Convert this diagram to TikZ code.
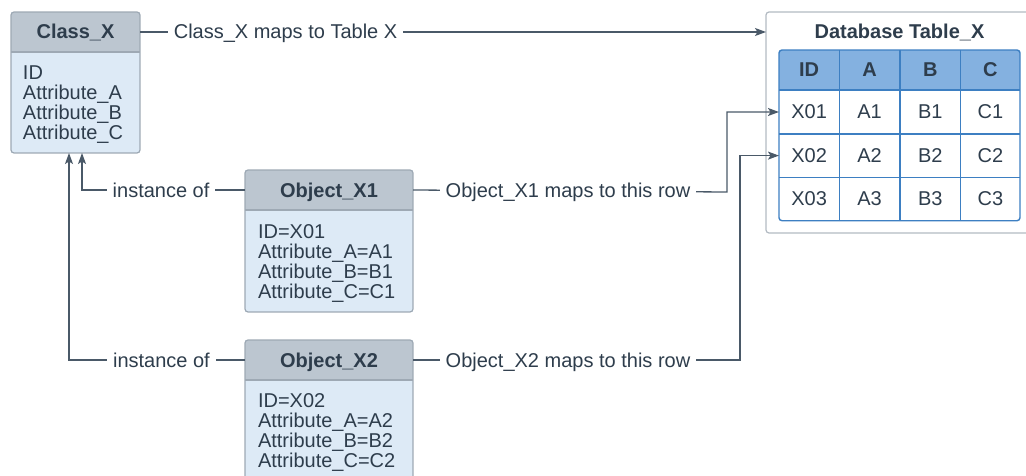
\documentclass[tikz,border=0pt]{standalone}
\usepackage{fontspec}
\setmainfont{Liberation Sans}
\usetikzlibrary{arrows.meta,calc}
\definecolor{hdr}{HTML}{BCC6D0}
\definecolor{bdy}{HTML}{DDEAF6}
\definecolor{brd}{HTML}{9EA9B4}
\definecolor{txt}{HTML}{2E3D4C}
\definecolor{ln}{HTML}{4A5968}
\definecolor{thdr}{HTML}{84B1E0}
\definecolor{tbrd}{HTML}{3D7FC2}
\definecolor{dbbrd}{HTML}{B3BBC3}
\begin{document}
\begin{tikzpicture}[x=1pt,y=-1pt,
  every node/.style={font=\fontsize{20}{20}\selectfont, text=txt, inner sep=0pt, outer sep=0pt},
  boxbody/.style={fill=bdy, rectangle, minimum width=#1, anchor=north west},
  hdrnode/.style={rectangle, minimum height=40pt, anchor=north west, text height=14pt, text depth=0pt, font=\fontsize{20}{20}\selectfont\bfseries},
  bline/.style={anchor=base west},
  lbl/.style={fill=white, inner xsep=6pt, inner ysep=2pt, text height=14pt, text depth=0pt},
  conn/.style={draw=ln, line width=1.3pt},
  arr/.style={conn, -{Stealth[length=11pt,width=8pt,inset=2.5pt]}},
  cell/.style={rectangle, minimum width=60.25pt, text height=14pt, text depth=0pt},
]
\useasboundingbox (0,0) rectangle (1026,476);

% ---------- Class_X ----------
\node[boxbody=129pt, minimum height=141pt] (classx) at (11,12) {};
\begin{scope}
  \clip[rounded corners=3pt] (classx.north west) rectangle (classx.south east);
  \fill[hdr] (classx.north west) rectangle ($(classx.north east)+(0,40)$);
\end{scope}
\draw[brd, line width=1.2pt] ($(classx.north west)+(0,40)$) -- ($(classx.north east)+(0,40)$);
\draw[brd, line width=1.2pt, rounded corners=3pt] (classx.north west) rectangle (classx.south east);
\node[hdrnode, minimum width=129pt] (classxh) at (11,12) {Class\_X};
\node[bline] (cx1) at (23,80) {ID};
\node[bline] (cx2) at (23,100) {Attribute\_A};
\node[bline] (cx3) at (23,120) {Attribute\_B};
\node[bline] (cx4) at (23,140) {Attribute\_C};

% ---------- Object_X1 ----------
\node[boxbody=168pt, minimum height=142pt] (obj1) at (245,170) {};
\begin{scope}
  \clip[rounded corners=3pt] (obj1.north west) rectangle (obj1.south east);
  \fill[hdr] (obj1.north west) rectangle ($(obj1.north east)+(0,40)$);
\end{scope}
\draw[brd, line width=1.2pt] ($(obj1.north west)+(0,40)$) -- ($(obj1.north east)+(0,40)$);
\draw[brd, line width=1.2pt, rounded corners=3pt] (obj1.north west) rectangle (obj1.south east);
\node[hdrnode, minimum width=168pt] (obj1h) at (245,170) {Object\_X1};
\node[bline] (o11) at (258,238) {ID=X01};
\node[bline] (o12) at (258,258) {Attribute\_A=A1};
\node[bline] (o13) at (258,278) {Attribute\_B=B1};
\node[bline] (o14) at (258,298) {Attribute\_C=C1};

% ---------- Object_X2 ----------
\node[boxbody=168pt, minimum height=150pt] (obj2) at (245,340) {};
\begin{scope}
  \clip[rounded corners=3pt] (obj2.north west) rectangle (obj2.south east);
  \fill[hdr] (obj2.north west) rectangle ($(obj2.north east)+(0,40)$);
\end{scope}
\draw[brd, line width=1.2pt] ($(obj2.north west)+(0,40)$) -- ($(obj2.north east)+(0,40)$);
\draw[brd, line width=1.2pt, rounded corners=3pt] (obj2.north west) rectangle (obj2.south east);
\node[hdrnode, minimum width=168pt] (obj2h) at (245,340) {Object\_X2};
\node[bline] (o21) at (258,407) {ID=X02};
\node[bline] (o22) at (258,427) {Attribute\_A=A2};
\node[bline] (o23) at (258,447) {Attribute\_B=B2};
\node[bline] (o24) at (258,467) {Attribute\_C=C2};

% ---------- Database Table_X ----------
\node[rectangle, fill=white, draw=dbbrd, line width=1.2pt, rounded corners=3pt,
      minimum width=270pt, minimum height=221pt, anchor=north west] (db) at (766,12) {};
\node[font=\fontsize{20}{20}\selectfont\bfseries, text height=14pt, text depth=0pt] (dbt) at (899.5,32) {Database Table\_X};
\begin{scope}
  \clip[rounded corners=3pt] (779,50) rectangle (1020,220.7);
  \fill[white] (779,50) rectangle (1020,220.7);
  \fill[thdr] (779,50) rectangle (1020,90);
\end{scope}
\draw[tbrd, line width=1.2pt] (779,90) -- (1020,90) (779,134) -- (1020,134) (779,177.3) -- (1020,177.3)
  (839.3,50) -- (839.3,220.7) (900,50) -- (900,220.7) (960.7,50) -- (960.7,220.7);
\draw[tbrd, line width=1.4pt, rounded corners=3pt] (779,50) rectangle (1020,220.7);
% header row
\node[cell, minimum height=40pt, font=\fontsize{20}{20}\selectfont\bfseries] (hID) at (809.1,70) {ID};
\node[cell, minimum height=40pt, font=\fontsize{20}{20}\selectfont\bfseries] (hA) at (869.6,70) {A};
\node[cell, minimum height=40pt, font=\fontsize{20}{20}\selectfont\bfseries] (hB) at (930.3,70) {B};
\node[cell, minimum height=40pt, font=\fontsize{20}{20}\selectfont\bfseries] (hC) at (990.4,70) {C};
% rows
\node[cell, minimum height=44pt] (r1) at (809.1,112) {X01};
\node[cell] (r1a) at (869.6,112) {A1};
\node[cell] (r1b) at (930.3,112) {B1};
\node[cell] (r1c) at (990.4,112) {C1};
\node[cell, minimum height=43pt] (r2) at (809.1,155.6) {X02};
\node[cell] (r2a) at (869.6,155.6) {A2};
\node[cell] (r2b) at (930.3,155.6) {B2};
\node[cell] (r2c) at (990.4,155.6) {C2};
\node[cell, minimum height=43pt] (r3) at (809.1,199) {X03};
\node[cell] (r3a) at (869.6,199) {A3};
\node[cell] (r3b) at (930.3,199) {B3};
\node[cell] (r3c) at (990.4,199) {C3};

% ---------- connectors ----------
\draw[arr] (classxh.east) -- node[lbl, pos=0.2325] {Class\_X maps to Table X} (classxh.east -| db.west);

\coordinate (j1) at (727,192);
\coordinate (j2) at (740,360);
\draw[arr] (obj1h.east) -- node[lbl, pos=0.4936] {Object\_X1 maps to this row} (j1) |- (r1.west);
\draw[arr] (obj2h.east) -- node[lbl, pos=0.474] {Object\_X2 maps to this row} (j2) |- (r2.west);

\coordinate (cin1) at ($(classx.south west)+(71,0)$);
\coordinate (cin2) at ($(classx.south west)+(58,0)$);
\draw[arr] (obj1h.west) -- node[lbl, pos=0.515] {instance of} (obj1h.west -| cin1) -- (cin1);
\draw[arr] (obj2h.west) -- node[lbl, pos=0.4746] {instance of} (obj2h.west -| cin2) -- (cin2);
\end{tikzpicture}
\end{document}
